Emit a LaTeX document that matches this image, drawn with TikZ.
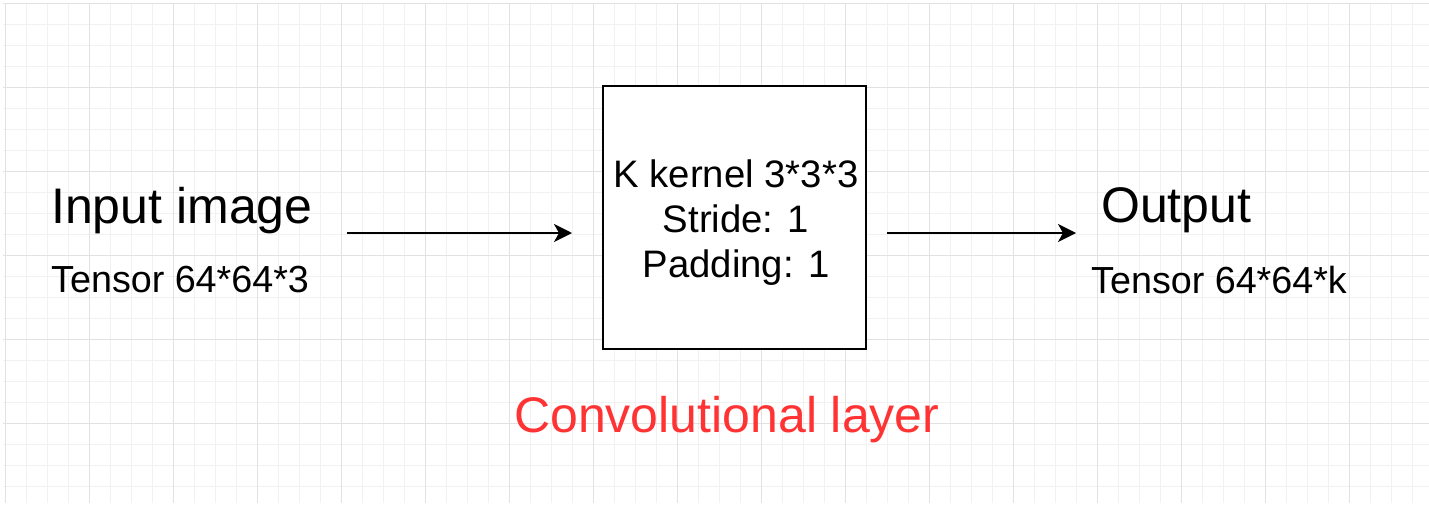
\documentclass[tikz,border=0pt]{standalone}
\usepackage{fontspec}
\setmainfont{Liberation Sans}
\usetikzlibrary{arrows.meta}

\definecolor{gridminor}{HTML}{F1F1F1}
\definecolor{gridmajor}{HTML}{E2E2E2}
\definecolor{layerred}{HTML}{FF3333}

\tikzset{
  bigtext/.style={inner sep=0pt, anchor=base west, font=\fontsize{50}{60}\selectfont},
  smalltext/.style={inner sep=0pt, anchor=base west, font=\fontsize{37.7}{45}\selectfont},
  boxtext/.style={inner sep=0pt, anchor=base, font=\fontsize{38.3}{45}\selectfont},
  convbox/.style={draw=black, line width=1.5pt, fill=white, minimum width=263pt, minimum height=263pt, inner sep=0pt},
  flow/.style={draw=black, line width=2pt, -{Stealth[length=18pt, width=18pt, inset=5pt]}}
}

\begin{document}
\begin{tikzpicture}[x=1pt, y=-1pt]
  % page area
  \useasboundingbox[fill=white] (0,0) rectangle (1429,506);

  % background grid: fine lines every 21, heavier lines every 84
  \foreach \k in {0,...,67} {
    \draw[gridminor, line width=1pt] ({5+21*\k},3) -- ({5+21*\k},503);
  }
  \foreach \k in {0,...,23} {
    \draw[gridminor, line width=1pt] (3,{3+21*\k}) -- (1429,{3+21*\k});
  }
  \foreach \k in {0,...,16} {
    \draw[gridmajor, line width=1pt] ({5+84*\k},3) -- ({5+84*\k},503);
  }
  \foreach \k in {0,...,5} {
    \draw[gridmajor, line width=1pt] (3,{3+84*\k}) -- (1429,{3+84*\k});
  }

  % input side
  \node[bigtext] (input) at (51,223) {Input image};
  \node[smalltext] (intensor) at (51,292) {Tensor 64*64*3};

  % convolution block
  \node[convbox] (conv) at (734.5,217.5) {};
  \node[boxtext] (kernel) at (736,187) {K kernel 3*3*3};
  \node[boxtext] (stride) at (736,232) {Stride: 1};
  \node[boxtext] (padding) at (736,277) {Padding: 1};
  \node[bigtext, text=layerred] (layername) at (514,432) {Convolutional layer};

  % output side
  \node[bigtext] (output) at (1101,222) {Output};
  \node[smalltext] (outtensor) at (1091,293) {Tensor 64*64*k};

  % connectors
  \coordinate (inarrow) at (347,233);
  \coordinate (inend) at (572,233);
  \coordinate (outarrow) at (887,233);
  \coordinate (outend) at (1076,233);
  \draw[flow] (inarrow) -- (inend);
  \draw[flow] (outarrow) -- (outend);
\end{tikzpicture}
\end{document}
